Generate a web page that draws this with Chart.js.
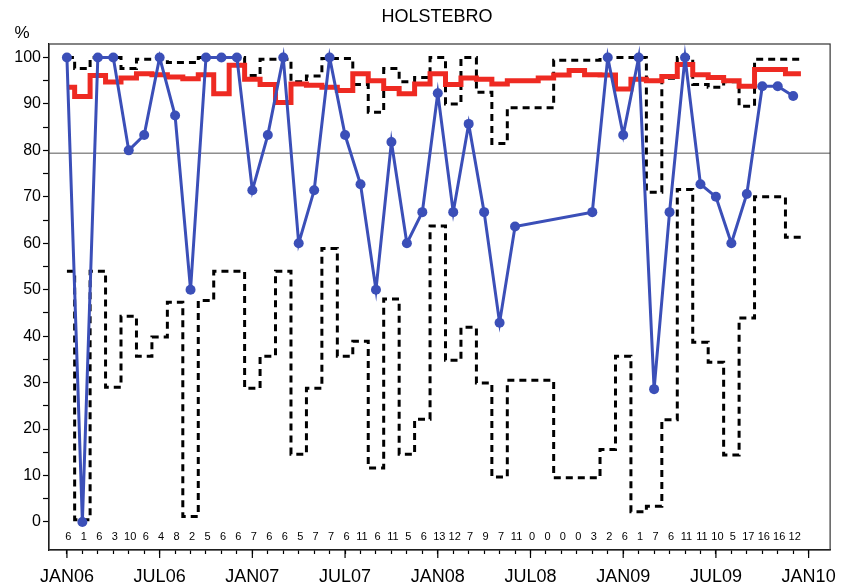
<!DOCTYPE html>
<html>
<head>
<meta charset="utf-8">
<script src="https://cdn.jsdelivr.net/npm/chart.js@4.4.1/dist/chart.umd.min.js"></script>
<style>
  html, body { margin: 0; padding: 0; background: #fff; }
</style>
</head>
<body>
<canvas id="chart" width="848" height="588"></canvas>
<script>
// monthly data JAN06 .. DEC09 (index 0 = JAN06)
const counts = [6, 1, 6, 3, 10, 6, 4, 8, 2, 5, 6, 6, 7, 6, 6, 5, 7, 7, 6, 11, 6, 11, 5, 6,
                13, 12, 7, 9, 7, 11, 0, 0, 0, 0, 3, 2, 6, 1, 7, 6, 11, 11, 10, 5, 17, 16, 16, 12];

const percent = [100, 0, 100, 100, 80, 83.3, 100, 87.5, 50, 100, 100, 100,
                 71.4, 83.3, 100, 60, 71.4, 100, 83.3, 72.7, 50, 81.8, 60, 66.7,
                 92.3, 66.7, 85.7, 66.7, 42.9, 63.6, null, null, null, null, 66.7, 100,
                 83.3, 100, 28.6, 66.7, 100, 72.7, 70, 60, 70.6, 93.8, 93.8, 91.7];

const centre = [93.6, 91.6, 96.1, 94.7, 95.6, 96.5, 96.3, 95.8, 95.4, 96.3, 92.2, 98.3,
                95.3, 94.2, 90.3, 94.3, 94.0, 93.6, 92.9, 96.5, 95.0, 93.3, 92.2, 94.3,
                96.5, 94.2, 95.6, 95.3, 94.3, 95.0, 95.0, 95.6, 96.2, 97.2, 96.3, 96.2,
                93.2, 95.3, 95.0, 95.9, 98.5, 96.3, 95.7, 95.0, 93.8, 97.4, 97.4, 96.5];

const upper = [100, 97.6, 100, 100, 97.6, 99.6, 99.6, 98.9, 98.9, 100, 100, 100,
               96.1, 99.6, 99.6, 94.8, 96.0, 99.8, 99.8, 94.2, 88.2, 97.6, 94.8, 95.7,
               100, 90.0, 100, 92.5, 81.5, 89.2, 89.2, 89.2, 99.4, 99.4, 99.4, 100,
               100, 100, 71.0, 95.5, 100, 94.2, 93.6, 94.8, 89.5, 99.6, 99.6, 99.6];

const lower = [54, 0.5, 54, 29, 44.3, 35.7, 39.8, 47.3, 1.2, 47.7, 54, 54,
               28.8, 35.7, 54, 14.6, 28.8, 58.9, 35.7, 38.9, 11.6, 48, 14.6, 22.1,
               63.7, 34.8, 41.9, 29.9, 9.7, 30.5, 30.5, 30.5, 9.5, 9.5, 9.5, 15.6,
               35.7, 2.2, 3.4, 22, 71.6, 38.7, 34.4, 14.4, 43.9, 70, 70, 61.3];

const refLevel = 79.4;
const xTickLabels = ['JAN06', 'JUL06', 'JAN07', 'JUL07', 'JAN08', 'JUL08', 'JAN09', 'JUL09', 'JAN10'];
const yTickValues = [0, 5, 10, 15, 20, 25, 30, 35, 40, 45, 50, 55, 60, 65, 70, 75, 80, 85, 90, 95, 100];

const FONT = '"Liberation Sans", Arial, sans-serif';
const countRow = -3.2;

// step lines: each month holds its value until the next month boundary
function steps(values) {
  const pts = values.map((v, i) => ({ x: i === 0 ? 0 : i - 0.5, y: v }));
  pts.push({ x: values.length - 0.5, y: values[values.length - 1] });
  return pts;
}

const extras = {
  id: 'extras',
  beforeDatasetsDraw(chart) {
    const { ctx, chartArea: a, scales: { y } } = chart;
    const py = y.getPixelForValue(refLevel);
    ctx.save();
    ctx.strokeStyle = '#555';
    ctx.lineWidth = 1;
    ctx.beginPath();
    ctx.moveTo(a.left, py);
    ctx.lineTo(a.right, py);
    ctx.stroke();
    ctx.restore();
  },
  afterDraw(chart) {
    const { ctx, chartArea: a, scales: { x, y } } = chart;
    ctx.save();
    // frame
    ctx.strokeStyle = '#333';
    ctx.lineWidth = 1.2;
    ctx.strokeRect(a.left, a.top, a.right - a.left, a.bottom - a.top);

    // longer ticks every six months
    ctx.strokeStyle = '#000';
    ctx.lineWidth = 1.2;
    for (let i = 0; i < xTickLabels.length; i++) {
      const px = x.getPixelForValue(i * 6);
      ctx.beginPath();
      ctx.moveTo(px, a.bottom);
      ctx.lineTo(px, a.bottom + 8);
      ctx.stroke();
    }

    // counts per month
    ctx.fillStyle = '#000';
    ctx.font = '11px ' + FONT;
    ctx.textAlign = 'center';
    ctx.textBaseline = 'middle';
    const cy = y.getPixelForValue(countRow);
    counts.forEach((c, i) => ctx.fillText(String(c), x.getPixelForValue(i) + 1.5, cy));

    // titles
    ctx.font = '18px ' + FONT;
    ctx.fillText('HOLSTEBRO', 437, 17);
    ctx.font = '17px ' + FONT;
    ctx.fillText('%', 22, 33);
    ctx.restore();
  }
};

new Chart(document.getElementById('chart'), {
  type: 'line',
  data: {
    datasets: [
      {
        label: 'lower',
        data: steps(lower),
        stepped: true,
        borderColor: '#000',
        borderWidth: 3,
        borderDash: [7, 5],
        pointRadius: 0,
        fill: false,
        order: 4
      },
      {
        label: 'upper',
        data: steps(upper),
        stepped: true,
        borderColor: '#000',
        borderWidth: 3,
        borderDash: [7, 5],
        pointRadius: 0,
        fill: false,
        order: 3
      },
      {
        label: 'centre',
        data: steps(centre),
        stepped: true,
        borderColor: '#ee2a22',
        borderWidth: 5,
        pointRadius: 0,
        fill: false,
        order: 2
      },
      {
        label: 'percent',
        data: percent.map((v, i) => ({ x: i, y: v })),
        spanGaps: true,
        borderColor: '#3b4fb8',
        backgroundColor: '#3b4fb8',
        borderWidth: 3,
        pointRadius: 5,
        pointBorderWidth: 0,
        fill: false,
        order: 1
      }
    ]
  },
  options: {
    responsive: false,
    animation: false,
    layout: { padding: { top: 44, right: 13, left: 0, bottom: 0 } },
    plugins: {
      legend: { display: false },
      tooltip: { enabled: false }
    },
    scales: {
      x: {
        type: 'linear',
        min: -1.16,
        max: 49.39,
        afterBuildTicks: (axis) => {
          axis.ticks = counts.map((c, i) => ({ value: i })).concat([{ value: counts.length }]);
        },
        afterFit: (axis) => { axis.height = 38; },
        grid: { drawOnChartArea: false, drawTicks: true, tickLength: 4, tickColor: '#000', tickWidth: 1.2 },
        border: { display: true, color: '#000', width: 1.2 },
        ticks: {
          autoSkip: false,
          maxRotation: 0,
          padding: 12,
          color: '#000',
          font: { family: FONT, size: 18 },
          callback: (v) => (v % 6 === 0 ? xTickLabels[v / 6] : '')
        }
      },
      y: {
        type: 'linear',
        min: -6.03,
        max: 102.9,
        afterBuildTicks: (axis) => {
          axis.ticks = yTickValues.map((v) => ({ value: v }));
        },
        afterFit: (axis) => { axis.width = 49; },
        grid: { drawOnChartArea: false, drawTicks: true, tickLength: 6, tickColor: '#000', tickWidth: 1.2 },
        border: { display: true, color: '#000', width: 1.2 },
        ticks: {
          padding: 2,
          color: '#000',
          font: { family: FONT, size: 16 },
          callback: (v) => (v % 10 === 0 ? String(v) : '')
        }
      }
    }
  },
  plugins: [extras]
});
</script>
</body>
</html>
